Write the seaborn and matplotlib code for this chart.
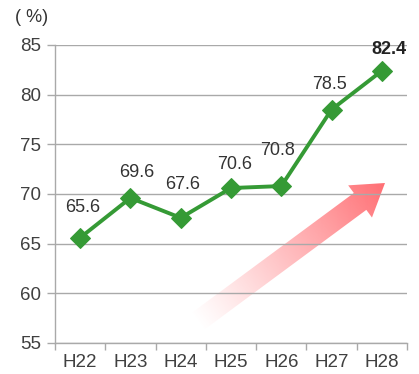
import numpy as np
import pandas as pd
import matplotlib
matplotlib.use("Agg")
import matplotlib.pyplot as plt
from matplotlib.patches import Polygon
from matplotlib.ticker import FixedLocator, NullFormatter
import seaborn as sns

# Data
years = ["H22", "H23", "H24", "H25", "H26", "H27", "H28"]
rates = [65.6, 69.6, 67.6, 70.6, 70.8, 78.5, 82.4]
y_ticks = [55, 60, 65, 70, 75, 80, 85]

# Label placement offsets (pixels from each marker)
label_dx = [3, 6, 2, 4, -4, -2, 7]
label_dy = [30, 25, 33, 24, 36, 25, 21]

sns.set_style("white")
plt.rcParams["font.family"] = ["Liberation Sans", "DejaVu Sans"]

W, H = 419, 374
fig = plt.figure(figsize=(W / 100, H / 100), dpi=100)
ax_l, ax_r, ax_t, ax_b = 55, 407, 45, 343
ax = fig.add_axes([ax_l / W, 1 - ax_b / H, (ax_r - ax_l) / W, (ax_b - ax_t) / H])

df = pd.DataFrame({"year": years, "rate": rates})
green = "#359a35"
sns.lineplot(data=df, x="year", y="rate", ax=ax, color=green, lw=2.8,
             marker="D", markersize=10, markeredgecolor=green,
             markerfacecolor=green, zorder=5)

ax.set_xlim(-0.5, len(years) - 0.5)
ax.set_ylim(55, 85)
ax.set_xlabel("")
ax.set_ylabel("")

# Axes styling
grid_c = "#a9a9a9"
ax.set_yticks(y_ticks)
ax.yaxis.grid(True, color=grid_c, lw=1)
ax.xaxis.grid(False)
for s in ["top", "right"]:
    ax.spines[s].set_visible(False)
for s in ["left", "bottom"]:
    ax.spines[s].set_color(grid_c)
    ax.spines[s].set_linewidth(1)

ax.tick_params(axis="y", length=6, width=1, color=grid_c, labelsize=13.5,
               labelcolor="#404040", pad=4, left=True)
# Category boundaries carry the tick marks, centres carry the labels
ax.xaxis.set_major_locator(FixedLocator(np.arange(-0.5, len(years), 1.0)))
ax.xaxis.set_major_formatter(NullFormatter())
ax.xaxis.set_minor_locator(FixedLocator(np.arange(len(years))))
ax.set_xticklabels(years, minor=True)
ax.tick_params(axis="x", which="major", length=5, width=1, color=grid_c, bottom=True)
ax.tick_params(axis="x", which="minor", length=0, labelsize=13.5,
               labelcolor="#404040", pad=8)

# Value labels
for i, (v, dx, dy) in enumerate(zip(rates, label_dx, label_dy)):
    last = i == len(rates) - 1
    ax.annotate(f"{v:.1f}", (i, v), xytext=(dx, dy), textcoords="offset pixels",
                ha="center", va="center", fontsize=13,
                fontweight="bold" if last else "normal",
                color="#222222" if last else "#333333", zorder=6)

# Unit label
fig.text(32 / W, 1 - 18 / H, "( %)", ha="center", va="center",
         fontsize=13, color="#333333")

# Gradient arrow (drawn in pixel space of the axes)
tail = np.array([197.0, 322.0])
tip = np.array([385.0, 183.0])
d = tip - tail
L = np.hypot(*d)
u = d / L
p = np.array([u[1], -u[0]])
shaft_w, head_w, head_len = 10.5, 20.0, 31.0
neck = tip - u * head_len
pts = [tail + p * shaft_w, neck + p * shaft_w, neck + p * head_w, tip,
       neck - p * head_w, neck - p * shaft_w, tail - p * shaft_w]


def to_axes(pt):
    return ((pt[0] - ax_l) / (ax_r - ax_l), (ax_b - pt[1]) / (ax_b - ax_t))


poly = Polygon([to_axes(q) for q in pts], closed=True, transform=ax.transAxes,
               facecolor="none", edgecolor="none")
ax.add_patch(poly)

nx, ny = ax_r - ax_l, ax_b - ax_t
gx, gy = np.meshgrid(np.arange(nx) + ax_l + 0.5, np.arange(ny) + ax_t + 0.5)
t = ((gx - tail[0]) * u[0] + (gy - tail[1]) * u[1]) / L
t = np.clip(t, 0, 1)
img = np.zeros((ny, nx, 4))
img[..., 0] = 1.0
img[..., 1] = 0.40
img[..., 2] = 0.42
img[..., 3] = t ** 1.1 * 0.95
im = ax.imshow(img, extent=(0, 1, 0, 1), transform=ax.transAxes, origin="upper",
               aspect="auto", zorder=0.3, interpolation="bilinear")
im.set_clip_path(poly)
ax.set_xlim(-0.5, len(years) - 0.5)
ax.set_ylim(55, 85)

fig.savefig("out.png", dpi=100)
